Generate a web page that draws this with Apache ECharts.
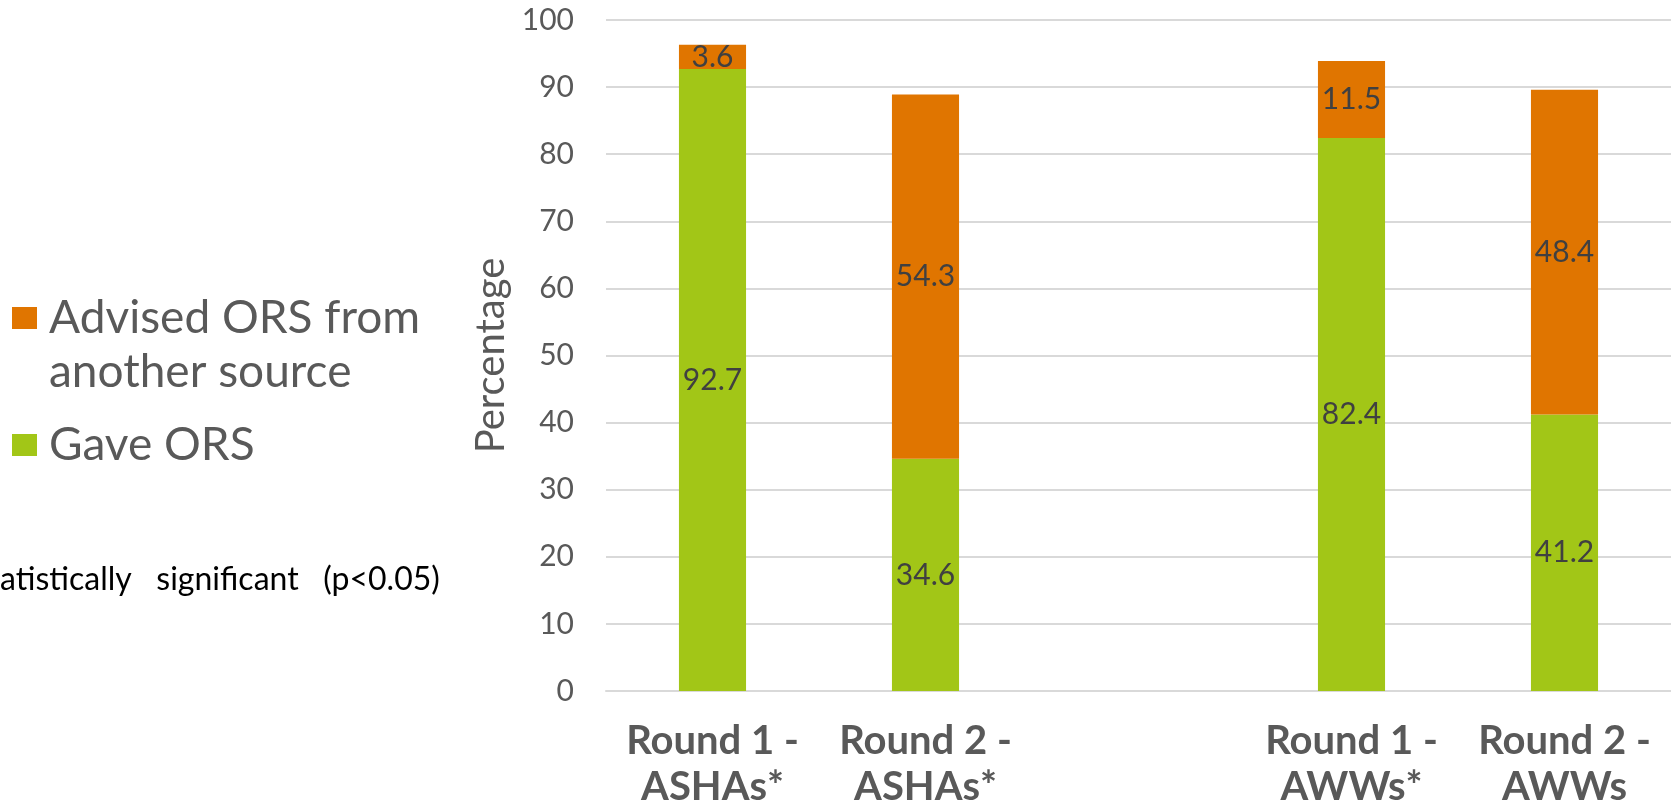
<!DOCTYPE html>
<html>
<head>
<meta charset="utf-8">
<script src="https://cdn.jsdelivr.net/npm/echarts@6/dist/echarts.min.js"></script>
<style>
html,body{margin:0;padding:0;background:#fff;}
#chart{width:1671px;height:801px;}
</style>
</head>
<body>
<div id="chart"></div>
<script>
const categories = ['Round 1 -\nASHAs*', 'Round 2 -\nASHAs*', '', 'Round 1 -\nAWWs*', 'Round 2 -\nAWWs'];
const gaveORS = [92.7, 34.6, null, 82.4, 41.2];
const advisedORS = [3.6, 54.3, null, 11.5, 48.4];
const yTicks = [0, 10, 20, 30, 40, 50, 60, 70, 80, 90, 100];
const seriesNames = ['Gave ORS', 'Advised ORS from another source'];
const footnote = 'atistically   significant   (p<0.05)';

const FONT = 'Lato';
const chart = echarts.init(document.getElementById('chart'));
chart.setOption({
  animation: false,
  backgroundColor: '#ffffff',
  grid: { left: 606, right: 0, top: 20, bottom: 110, containLabel: false, outerBoundsMode: 'none' },
  legend: [
    {
      data: [seriesNames[1]],
      left: 12, top: 237, padding: 0,
      icon: 'rect', itemWidth: 25, itemHeight: 22,
      formatter: () => '\nAdvised ORS from\nanother source',
      textStyle: { fontFamily: FONT, fontSize: 46, lineHeight: 54, color: '#595959', padding: [0, 0, 0, 7] }
    },
    {
      data: [seriesNames[0]],
      left: 12, top: 418, padding: 0,
      icon: 'rect', itemWidth: 25, itemHeight: 22,
      textStyle: { fontFamily: FONT, fontSize: 46, lineHeight: 54, color: '#595959', padding: [0, 0, 0, 7] }
    }
  ],
  xAxis: {
    type: 'category',
    data: categories,
    axisTick: { show: false },
    axisLine: { show: true, lineStyle: { color: '#d9d9d9', width: 2 } },
    axisLabel: {
      interval: 0, margin: 27,
      fontFamily: FONT, fontWeight: 'bold', fontSize: 40, lineHeight: 46, color: '#595959'
    }
  },
  yAxis: {
    type: 'value',
    min: yTicks[0], max: yTicks[yTicks.length - 1], interval: 10,
    name: 'Percentage',
    nameLocation: 'middle',
    nameGap: 94,
    nameTextStyle: { fontFamily: FONT, fontSize: 40, color: '#595959' },
    axisLine: { show: false },
    axisTick: { show: false },
    axisLabel: { margin: 32, fontFamily: FONT, fontSize: 30, color: '#595959' },
    splitLine: { lineStyle: { color: '#d9d9d9', width: 2 } }
  },
  series: [
    {
      name: seriesNames[0],
      type: 'bar', stack: 'total',
      data: gaveORS,
      barWidth: '31.5%',
      itemStyle: { color: '#A2C617' },
      label: { show: true, position: 'inside', fontFamily: FONT, fontSize: 30, color: '#404040' }
    },
    {
      name: seriesNames[1],
      type: 'bar', stack: 'total',
      data: advisedORS,
      barWidth: '31.5%',
      itemStyle: { color: '#E07500' },
      label: { show: true, position: 'inside', fontFamily: FONT, fontSize: 30, color: '#404040' }
    }
  ],
  graphic: [
    {
      type: 'text', left: 0, top: 564,
      style: { text: footnote, fontFamily: FONT, fontSize: 32, fill: '#000000' }
    }
  ]
});
</script>
</body>
</html>
